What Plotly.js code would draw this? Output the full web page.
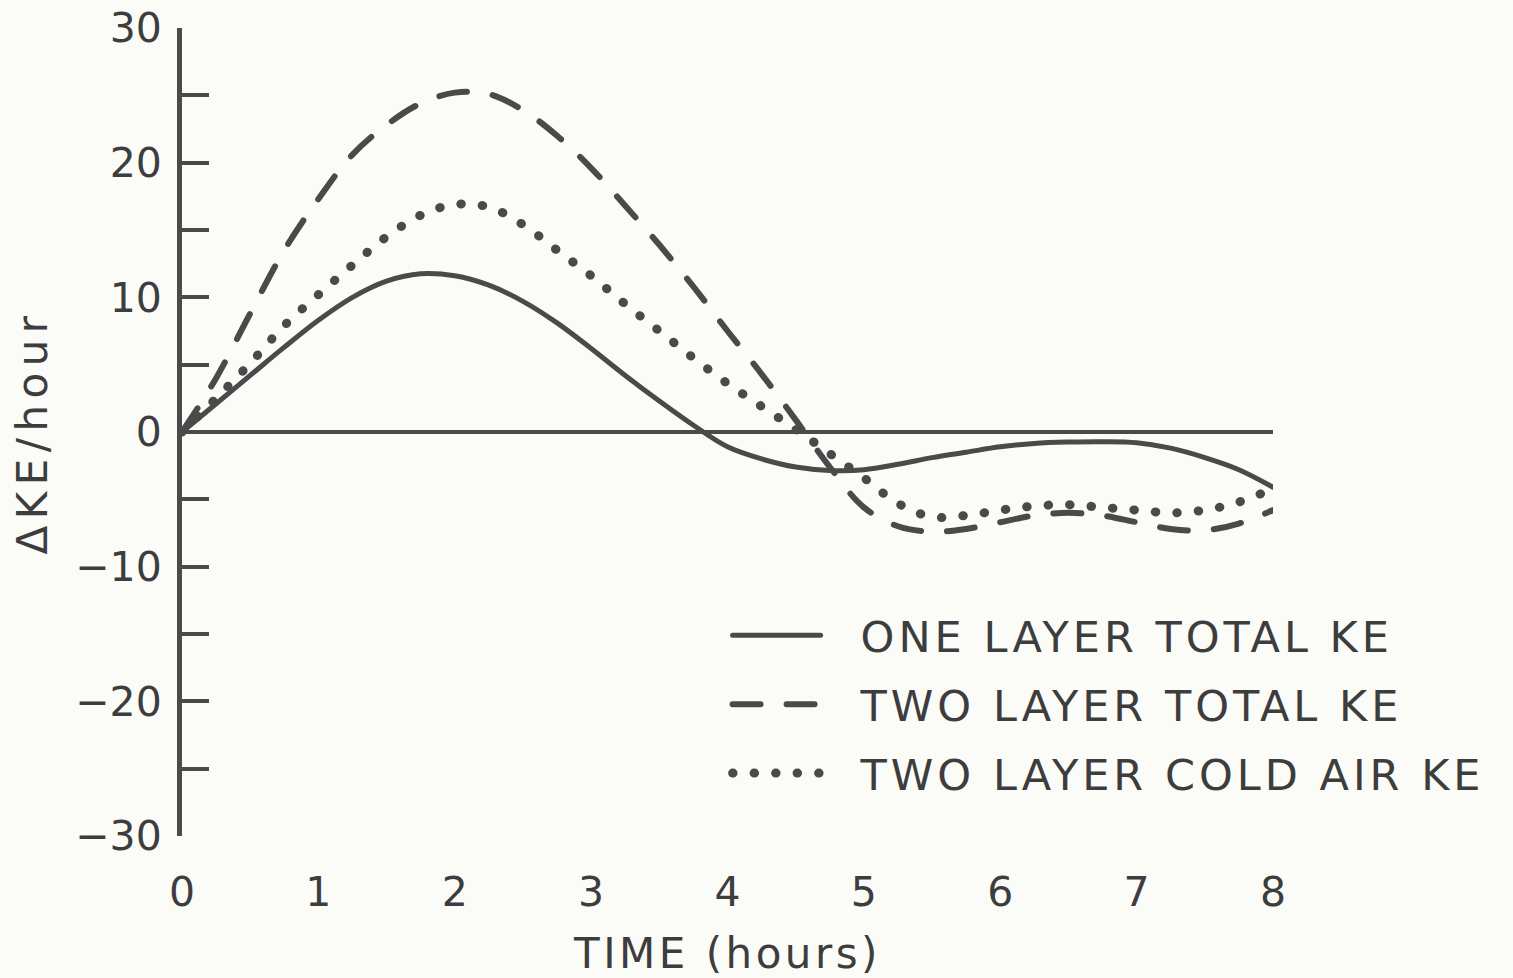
<!DOCTYPE html>
<html>
<head>
<meta charset="utf-8">
<script src="https://cdn.plot.ly/plotly-3.0.1.min.js"></script>
<style>
  html, body { margin: 0; padding: 0; background: #fbfbf8; }
  #chart { width: 1513px; height: 978px; }
  .legendtext { letter-spacing: 4px; }
  .xtitle { letter-spacing: 3.5px; }
  .ytitle { letter-spacing: 6.5px; }
  .scatterlayer .js-line { stroke-linecap: round !important; }
  .legendlines path { stroke-linecap: round !important; }
</style>
</head>
<body>
<div id="chart"></div>
<script>
// Time (hours)
const timeHours = [0, 0.25, 0.5, 0.75, 1, 1.25, 1.5, 1.75, 2, 2.25, 2.5, 2.75, 3, 3.25, 3.5, 3.75,
                   4, 4.25, 4.5, 4.75, 5, 5.25, 5.5, 5.75, 6, 6.25, 6.5, 6.75, 7, 7.25, 7.5, 7.75, 8];

// ΔKE/hour, one layer total KE (solid)
const oneLayerTotal = [0, 2.1, 4.2, 6.3, 8.3, 10.0, 11.2, 11.75, 11.6, 10.9, 9.7, 8.1, 6.2, 4.2, 2.3, 0.5,
                       -1.1, -2.0, -2.6, -2.85, -2.8, -2.4, -1.9, -1.5, -1.1, -0.85, -0.75, -0.72, -0.8, -1.2, -1.9, -2.8, -4.1];

// ΔKE/hour, two layer total KE (dashed)
const twoLayerTotal = [0, 4.0, 8.8, 13.5, 17.3, 20.6, 22.8, 24.4, 25.2, 25.1, 23.9, 22.0, 19.6, 16.8, 13.9, 10.8,
                       7.5, 4.3, 0.9, -2.6, -5.6, -7.0, -7.4, -7.2, -6.7, -6.2, -6.0, -6.2, -6.7, -7.2, -7.3, -6.8, -5.8];

// ΔKE/hour, two layer cold air KE (dotted)
const twoLayerCold = [0, 2.5, 5.1, 7.9, 10.2, 12.4, 14.5, 16.1, 16.9, 16.7, 15.4, 13.5, 11.6, 9.5, 7.5, 5.5,
                      3.6, 1.9, 0.2, -1.6, -3.4, -5.3, -6.3, -6.2, -5.8, -5.5, -5.4, -5.6, -5.8, -6.0, -5.8, -5.2, -4.2];

const seriesNames = ['ONE LAYER TOTAL KE', 'TWO LAYER TOTAL KE', 'TWO LAYER COLD AIR KE'];

const xTickVals = [0, 1, 2, 3, 4, 5, 6, 7, 8];
const xTickText = ['0', '1', '2', '3', '4', '5', '6', '7', '8'];
const yTickVals = [-30, -25, -20, -15, -10, -5, 0, 5, 10, 15, 20, 25, 30];
const yTickText = ['\u221230', '', '\u221220', '', '\u221210', '', '0', '', '10', '', '20', '', '30'];

const ink = '#4a4a4a';
const textInk = '#3d3d3d';
const fontFam = 'DejaVu Sans, Liberation Sans, sans-serif';

const traces = [
  { x: timeHours, y: oneLayerTotal, name: seriesNames[0], mode: 'lines',
    line: { color: ink, width: 5, shape: 'spline', smoothing: 1 }, legendgroup: 'a' },
  { x: timeHours, y: twoLayerTotal, name: seriesNames[1], mode: 'lines',
    line: { color: ink, width: 6, shape: 'spline', smoothing: 1, dash: '28px,26px' }, legendgroup: 'b' },
  { x: timeHours, y: twoLayerCold, name: seriesNames[2], mode: 'lines',
    line: { color: ink, width: 9, shape: 'spline', smoothing: 1, dash: '0.5px,21px' }, legendgroup: 'c' }
];

const layout = {
  width: 1513, height: 978,
  paper_bgcolor: '#fbfbf8', plot_bgcolor: '#fbfbf8',
  margin: { l: 182, r: 240, t: 28, b: 142, autoexpand: false },
  font: { family: fontFam, color: textInk, size: 41 },
  showlegend: true,
  legend: {
    x: 0.501, xanchor: 'left', y: 0.291, yanchor: 'top',
    bgcolor: 'rgba(0,0,0,0)', borderwidth: 0,
    font: { family: fontFam, size: 43, color: textInk },
    itemwidth: 122, tracegroupgap: 10, traceorder: 'grouped'
  },
  xaxis: {
    range: [0, 8], showgrid: false, zeroline: false, showline: false,
    ticks: '', tickmode: 'array', tickvals: xTickVals, ticktext: xTickText,
    tickfont: { family: fontFam, size: 41, color: textInk },
    ticklabelstandoff: 28,
    title: { text: 'TIME (hours)', font: { family: fontFam, size: 42, color: textInk }, standoff: 25 }
  },
  yaxis: {
    range: [-30, 30], showgrid: false,
    zeroline: true, zerolinecolor: ink, zerolinewidth: 4,
    showline: true, linecolor: ink, linewidth: 5,
    ticks: 'inside', ticklen: 27, tickwidth: 4, tickcolor: ink,
    tickmode: 'array', tickvals: yTickVals, ticktext: yTickText,
    tickfont: { family: fontFam, size: 41, color: textInk },
    ticklabelstandoff: 7,
    title: { text: '\u0394KE/hour', font: { family: fontFam, size: 42, color: textInk }, standoff: 16 }
  }
};

Plotly.newPlot('chart', traces, layout, { staticPlot: true, displayModeBar: false }).then(function () {
  // no clipping of the legend box (its width is measured without the letter spacing)
  document.querySelectorAll('.legend .scrollbox, .legend').forEach(function (s) {
    s.removeAttribute('clip-path');
  });
  // lengthen legend line samples to match the original figure
  document.querySelectorAll('.legend .traces').forEach(function (g) {
    const t = g.querySelector('.legendtext');
    const p = g.querySelector('.legendlines path');
    if (t && p) {
      const tx = parseFloat(t.getAttribute('x')) || 132;
      p.setAttribute('d', 'M' + (tx - 128) + ',0h88');
    }
  });
});
</script>
</body>
</html>
